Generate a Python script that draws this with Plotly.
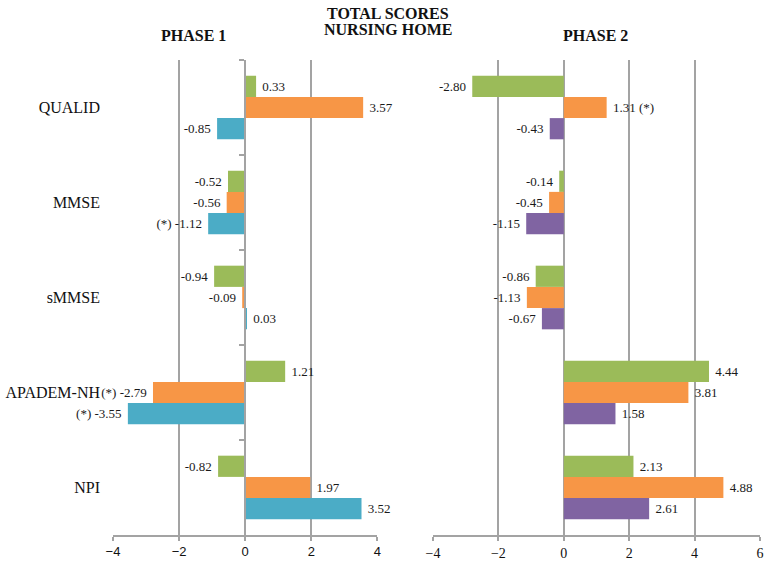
import plotly.graph_objects as go

categories = ["QUALID", "MMSE", "sMMSE", "APADEM-NH", "NPI"]

# Phase 1
p1_green = [0.33, -0.52, -0.94, 1.21, -0.82]
p1_orange = [3.57, -0.56, -0.09, -2.79, 1.97]
p1_blue = [-0.85, -1.12, 0.03, -3.55, 3.52]
p1_green_lbl = ["0.33", "-0.52", "-0.94", "1.21", "-0.82"]
p1_orange_lbl = ["3.57", "-0.56", "-0.09", "(*) -2.79", "1.97"]
p1_blue_lbl = ["-0.85", "(*) -1.12", "0.03", "(*) -3.55", "3.52"]

# Phase 2
p2_green = [-2.80, -0.14, -0.86, 4.44, 2.13]
p2_orange = [1.31, -0.45, -1.13, 3.81, 4.88]
p2_purple = [-0.43, -1.15, -0.67, 1.58, 2.61]
p2_green_lbl = ["-2.80", "-0.14", "-0.86", "4.44", "2.13"]
p2_orange_lbl = ["1.31 (*)", "-0.45", "-1.13", "3.81", "4.88"]
p2_purple_lbl = ["-0.43", "-1.15", "-0.67", "1.58", "2.61"]

x1_range = [-4, 4]
x2_range = [-4, 6]
x1_ticks = [-4, -2, 0, 2, 4]
x2_ticks = [-4, -2, 0, 2, 4, 6]

GREEN = "#9BBB59"
ORANGE = "#F79646"
BLUE = "#4BACC6"
PURPLE = "#8064A2"
GRID = "#A3A3A3"
SERIF = "Liberation Serif, Times New Roman, serif"
SANS = "Liberation Sans, Arial, sans-serif"

W, H = 767, 564
ML, MR, MT, MB = 113, 3, 60, 22
pw = W - ML - MR
ph = H - MT - MB
d1 = [0, (379 - ML) / pw]
d2 = [(435 - ML) / pw, 1.0]

fig = go.Figure()

def add(vals, lbls, color, xa, ya):
    fig.add_trace(go.Bar(
        y=categories, x=vals, orientation="h",
        marker=dict(color=color, line=dict(width=0)),
        text=lbls, texttemplate="\u00a0%{text}\u00a0",
        textposition="outside", constraintext="none", textangle=0,
        textfont=dict(family=SERIF, size=13, color="#1a1a1a"),
        cliponaxis=False, xaxis=xa, yaxis=ya, showlegend=False,
        hoverinfo="skip",
    ))

add(p1_green, p1_green_lbl, GREEN, "x", "y")
add(p1_orange, p1_orange_lbl, ORANGE, "x", "y")
add(p1_blue, p1_blue_lbl, BLUE, "x", "y")
add(p2_green, p2_green_lbl, GREEN, "x2", "y2")
add(p2_orange, p2_orange_lbl, ORANGE, "x2", "y2")
add(p2_purple, p2_purple_lbl, PURPLE, "x2", "y2")

# invisible helper trace so the category axis at x=0 gets its boundary ticks
fig.add_trace(go.Scatter(
    x=[0] * len(categories), y=categories, mode="markers",
    marker=dict(opacity=0), xaxis="x", yaxis="y3",
    showlegend=False, hoverinfo="skip",
))

zero_pos = d1[0] + (0 - x1_range[0]) / (x1_range[1] - x1_range[0]) * (d1[1] - d1[0])
cat_range = [len(categories) - 0.5, -0.5]

fig.update_layout(
    width=W, height=H,
    margin=dict(l=ML, r=MR, t=MT, b=MB),
    paper_bgcolor="white", plot_bgcolor="white",
    barmode="group", bargap=0.33, bargroupgap=0,
    showlegend=False,
    xaxis=dict(
        domain=d1, range=x1_range, tickvals=x1_ticks, anchor="y",
        showgrid=True, gridcolor=GRID, gridwidth=1.5,
        zeroline=True, zerolinecolor=GRID, zerolinewidth=1.5,
        showline=True, linecolor=GRID, linewidth=1.5,
        ticks="outside", ticklen=4, tickcolor=GRID, tickwidth=1.5,
        tickfont=dict(family=SANS, size=13, color="#111"),
    ),
    xaxis2=dict(
        domain=d2, range=x2_range, tickvals=x2_ticks, anchor="y2",
        showgrid=True, gridcolor=GRID, gridwidth=1.5,
        zeroline=True, zerolinecolor=GRID, zerolinewidth=1.5,
        showline=True, linecolor=GRID, linewidth=1.5,
        ticks="outside", ticklen=4, tickcolor=GRID, tickwidth=1.5,
        tickfont=dict(family=SERIF, size=14, color="#111"),
    ),
    yaxis=dict(
        type="category", categoryorder="array", categoryarray=categories,
        range=cat_range, anchor="x",
        showgrid=False, zeroline=False, showline=False, ticks="",
        ticklabelstandoff=12,
        tickfont=dict(family=SERIF, size=16, color="#111"),
    ),
    yaxis2=dict(
        type="category", categoryorder="array", categoryarray=categories,
        range=cat_range, anchor="x2",
        showgrid=False, zeroline=False, showline=False, ticks="",
        showticklabels=False,
    ),
    yaxis3=dict(
        type="category", categoryorder="array", categoryarray=categories,
        range=cat_range, overlaying="y", anchor="free", position=zero_pos,
        showgrid=False, zeroline=False, showline=True, linecolor=GRID,
        linewidth=1.5, ticks="outside", tickson="boundaries", ticklen=5,
        tickcolor=GRID, tickwidth=1.5, showticklabels=False,
    ),
)

def px_x(p):
    return (p - ML) / pw

def px_y(p):
    return 1 + (MT - p) / ph

title_font = dict(family=SERIF, size=16, color="#111")
for txt, xp, yp in [("TOTAL SCORES", 390, 13), ("NURSING HOME", 390, 29),
                    ("PHASE 1", 194, 35), ("PHASE 2", 598, 35)]:
    fig.add_annotation(
        text="<b>%s</b>" % txt, xref="paper", yref="paper",
        x=px_x(xp), y=px_y(yp), xanchor="center", yanchor="middle",
        showarrow=False, font=title_font,
    )

fig.write_html(
    "out.html",
    config={"displayModeBar": False},
    post_script="document.body.style.margin='0';document.body.style.overflow='hidden';",
)
